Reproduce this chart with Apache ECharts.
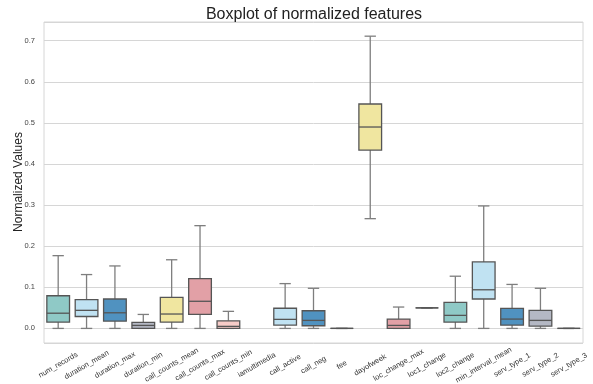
<!DOCTYPE html>
<html>
<head>
<meta charset="utf-8">
<script src="https://cdn.jsdelivr.net/npm/echarts@6/dist/echarts.min.js"></script>
<style>html,body{margin:0;padding:0;background:#fff}#c{width:593px;height:384px}</style>
</head>
<body>
<div id="c"></div>
<script>
var categories = ['num_records','duration_mean','duration_max','duration_min','call_counts_mean','call_counts_max','call_counts_min','iamultimedia','call_active','call_neg','fee','dayofweek','loc_change_max','loc1_change','loc2_change','min_interval_mean','serv_type_1','serv_type_2','serv_type_3'];
// [lower whisker, Q1, median, Q3, upper whisker]; null = no data drawn
var whiskerLow = [0, 0, 0, 0, 0, 0, 0, null, 0, 0, 0, 0.267, 0, 0.050, 0, 0, 0, 0, 0];
var q1 =         [0.0154, 0.029, 0.0178, 0.0, 0.0154, 0.034, 0.0, null, 0.008, 0.0065, 0, 0.434, 0.0, 0.050, 0.0154, 0.0715, 0.008, 0.0056, 0];
var medians =    [0.037, 0.044, 0.038, 0.0073, 0.035, 0.066, 0.005, null, 0.022, 0.0195, 0, 0.490, 0.0073, 0.050, 0.0317, 0.094, 0.0227, 0.0195, 0];
var q3 =         [0.0795, 0.070, 0.0715, 0.0146, 0.0756, 0.121, 0.0185, null, 0.049, 0.043, 0, 0.546, 0.0227, 0.050, 0.0634, 0.1617, 0.0488, 0.0439, 0];
var whiskerHigh =[0.177, 0.131, 0.152, 0.034, 0.167, 0.250, 0.0415, null, 0.109, 0.0976, 0, 0.711, 0.052, 0.050, 0.127, 0.298, 0.107, 0.0976, 0];
var palette = ['#8fc9c6','#c0e2f2','#5092c0','#b4b8c4','#f0e6a0','#e2a0a6','#f7ccc8'];
var yAxisTitle = 'Normalized Values';

var data = categories.map(function(c, i){
  return [i, whiskerLow[i], q1[i], medians[i], q3[i], whiskerHigh[i]];
});

var chart = echarts.init(document.getElementById('c'));
var font = "'Liberation Sans', Arial, sans-serif";
chart.setOption({
  backgroundColor: '#ffffff',
  animation: false,
  title: {
    text: 'Boxplot of normalized features',
    left: 309, top: 2, textAlign: 'center',
    textStyle: {fontFamily: font, fontSize: 16, fontWeight: 'normal', color: '#222'}
  },
  graphic: [{
    type: 'text', x: 19, y: 182, rotation: Math.PI / 2,
    style: {text: yAxisTitle, font: '12px ' + font, fill: '#222', textAlign: 'center', textVerticalAlign: 'middle'}
  }],
  grid: {left: 44, right: 10, top: 22, bottom: 41, show: true, borderColor: '#d6d6d6', borderWidth: 1,
    containLabel: false, outerBoundsMode: 'none'},
  xAxis: {
    type: 'category', data: categories, boundaryGap: true,
    axisLine: {show: false}, axisTick: {show: false}, splitLine: {show: false},
    axisLabel: {interval: 0, rotate: 30, align: 'center', verticalAlign: 'middle', margin: 22,
      fontFamily: font, fontSize: 7.5, color: '#333'}
  },
  yAxis: {
    type: 'value', min: -0.0355, max: 0.7455, splitNumber: 8,
    axisLine: {show: false}, axisTick: {show: false},
    splitLine: {lineStyle: {color: '#d6d6d6', width: 1}},
    axisLabel: {showMinLabel: false, showMaxLabel: false, fontFamily: font, fontSize: 7.5, color: '#444', margin: 9,
      formatter: function(v){ return v.toFixed(1); }}
  },
  series: [{
    type: 'custom',
    encode: {x: 0, y: [1,2,3,4,5]},
    data: data,
    renderItem: function(params, api){
      var i = api.value(0);
      var lo = api.value(1);
      if (lo === null || isNaN(lo)) return null;
      var band = api.size([1, 0])[0];
      var bw = band * 0.8;
      var cap = bw * 0.5;
      var cx = api.coord([i, 0])[0];
      var yLo = api.coord([i, api.value(1)])[1];
      var yQ1 = api.coord([i, api.value(2)])[1];
      var yMed = api.coord([i, api.value(3)])[1];
      var yQ3 = api.coord([i, api.value(4)])[1];
      var yHi = api.coord([i, api.value(5)])[1];
      var color = palette[i % palette.length];
      var wStyle = {stroke: '#7e7e7e', lineWidth: 1.3, fill: null};
      var bStyle = {stroke: '#555555', lineWidth: 1.3};
      return {
        type: 'group',
        children: [
          {type: 'line', shape: {x1: cx, y1: yLo, x2: cx, y2: yQ1}, style: wStyle},
          {type: 'line', shape: {x1: cx, y1: yQ3, x2: cx, y2: yHi}, style: wStyle},
          {type: 'line', shape: {x1: cx - cap/2, y1: yLo, x2: cx + cap/2, y2: yLo}, style: wStyle},
          {type: 'line', shape: {x1: cx - cap/2, y1: yHi, x2: cx + cap/2, y2: yHi}, style: wStyle},
          {type: 'rect', shape: {x: cx - bw/2, y: yQ3, width: bw, height: Math.max(yQ1 - yQ3, 0)},
            style: {fill: color, stroke: '#555555', lineWidth: 1.3}},
          {type: 'line', shape: {x1: cx - bw/2, y1: yMed, x2: cx + bw/2, y2: yMed}, style: bStyle}
        ]
      };
    }
  }]
});
</script>
</body>
</html>
